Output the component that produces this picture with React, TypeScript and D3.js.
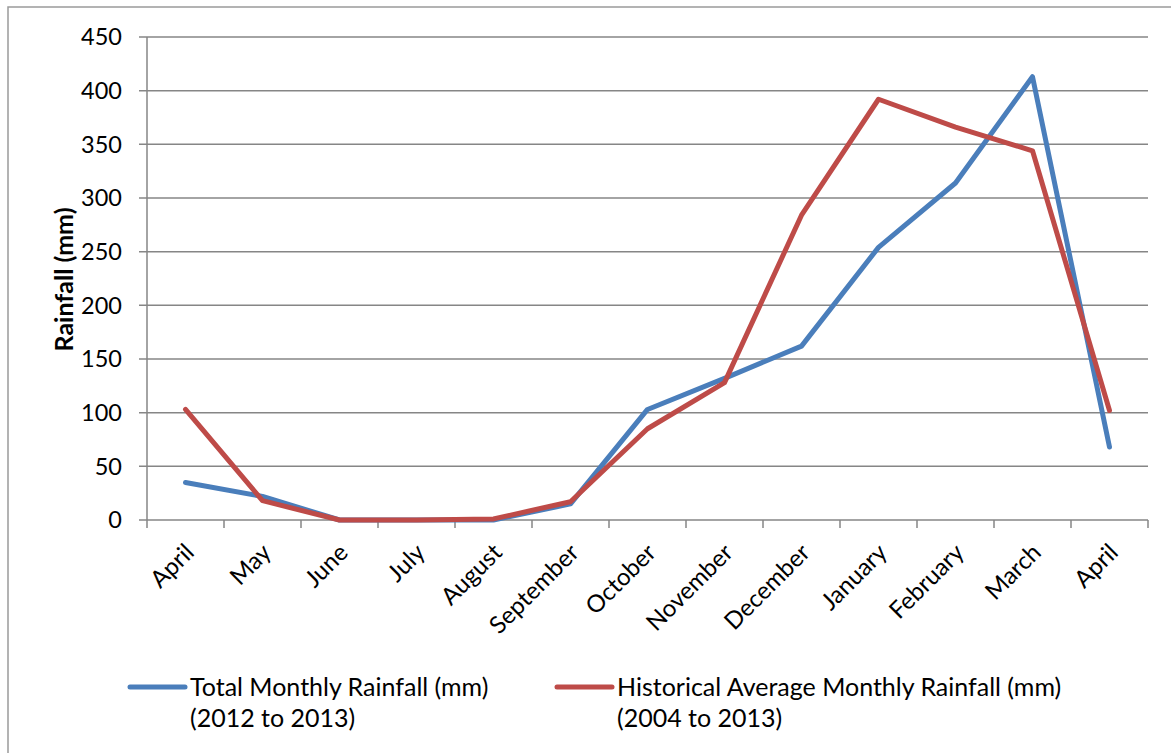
import React from "react";
import * as d3 from "d3";

const months = [
  "April", "May", "June", "July", "August", "September", "October",
  "November", "December", "January", "February", "March", "April",
];
const totalRainfall = [35, 22, 0, 0, 0, 15, 103, 132, 162, 254, 314, 413, 68];
const historicalAverage = [103, 18, 0, 0, 1, 17, 85, 128, 284, 392, 366, 344, 102];
const yTicks = [0, 50, 100, 150, 200, 250, 300, 350, 400, 450];

const seriesNames = [
  ["Total Monthly Rainfall (mm)", "(2012 to 2013)"],
  ["Historical Average Monthly Rainfall (mm)", "(2004 to 2013)"],
];

const W = 1171;
const H = 753;
const FONT = "Lato, 'DejaVu Sans', sans-serif";
const BLUE = "#4A7EBB";
const RED = "#BE4B48";
const GRID = "#868686";

export default function App() {
  const left = 147;
  const right = 1148;
  const top = 37;
  const bottom = 520;

  const x = d3.scaleBand<number>().domain(d3.range(months.length)).range([left, right]).padding(0);
  const y = d3.scaleLinear().domain([0, 450]).range([bottom, top]);
  const cx = (i: number) => (x(i) as number) + x.bandwidth() / 2;

  const line = d3
    .line<number>()
    .x((_, i) => cx(i))
    .y((d) => y(d));

  const boundaries = d3.range(months.length + 1).map((i) => left + i * x.bandwidth());

  const series = [
    { values: totalRainfall, color: BLUE, names: seriesNames[0], lx: 130 },
    { values: historicalAverage, color: RED, names: seriesNames[1], lx: 557 },
  ];

  return (
    <svg
      width={W}
      height={H}
      style={{ position: "absolute", left: 0, top: 0, background: "#fff" }}
      fontFamily={FONT}
    >
      <rect x={8} y={7} width={W + 20} height={H + 20} fill="#fff" stroke="#9a9a9a" strokeWidth={1.5} />

      {/* horizontal gridlines and y ticks */}
      {yTicks.map((t) => (
        <g key={t}>
          <line x1={left - 8} x2={right} y1={y(t)} y2={y(t)} stroke={GRID} strokeWidth={1.5} />
          <text x={122} y={y(t)} dy="0.36em" textAnchor="end" fontSize={23.5} fill="#000">
            {t}
          </text>
        </g>
      ))}

      {/* axes */}
      <line x1={left} x2={left} y1={top} y2={bottom} stroke={GRID} strokeWidth={1.5} />
      {boundaries.map((b, i) => (
        <line key={i} x1={b} x2={b} y1={bottom} y2={bottom + 8} stroke={GRID} strokeWidth={1.5} />
      ))}

      {/* category labels */}
      {months.map((m, i) => (
        <text
          key={i}
          transform={`translate(${cx(i) + 10},${554}) rotate(-45)`}
          textAnchor="end"
          fontSize={24}
          fill="#000"
        >
          {m}
        </text>
      ))}

      {/* y axis title */}
      <text
        transform={`translate(73,${(top + bottom) / 2 + 1}) rotate(-90)`}
        textAnchor="middle"
        fontSize={25}
        fontWeight="bold"
        fill="#000"
      >
        Rainfall (mm)
      </text>

      {/* series lines */}
      {series.map((s, k) => (
        <path
          key={k}
          d={line(s.values) ?? ""}
          fill="none"
          stroke={s.color}
          strokeWidth={5}
          strokeLinejoin="round"
          strokeLinecap="round"
        />
      ))}

      {/* legend */}
      {series.map((s, k) => (
        <g key={k}>
          <line x1={s.lx} x2={s.lx + 55} y1={687} y2={687} stroke={s.color} strokeWidth={5} strokeLinecap="round" />
          <text x={s.lx + 60} y={696} fontSize={25} fill="#000">
            {s.names[0]}
          </text>
          <text x={s.lx + 60} y={727} fontSize={25} fill="#000">
            {s.names[1]}
          </text>
        </g>
      ))}
    </svg>
  );
}
